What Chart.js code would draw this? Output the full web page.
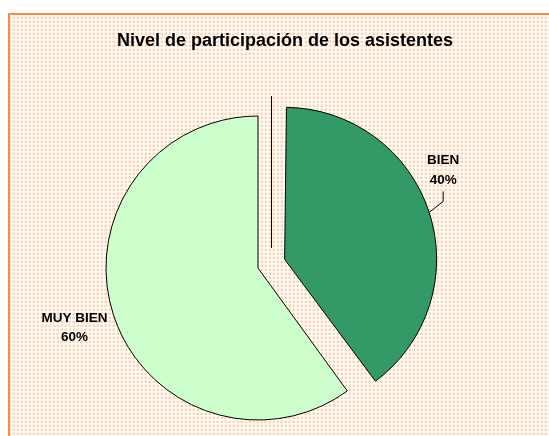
<!DOCTYPE html>
<html><head><meta charset="utf-8">
<script src="https://cdn.jsdelivr.net/npm/chart.js@4.4.1/dist/chart.umd.min.js"></script>
<style>html,body{margin:0;padding:0;background:#fff;}#wrap{width:549px;height:436px;position:relative;overflow:hidden}</style>
</head><body><div id="wrap"><canvas id="c" width="549" height="436"></canvas></div>
<script>
const chartTitle = 'Nivel de participación de los asistentes';
const categories = ['BIEN', 'MUY BIEN'];
const values = [40, 60];
const percentLabels = ['40%', '60%'];
const sliceColors = ['#339966', '#CCFFCC'];
const explode = [28, 0];

const FONT = '"Liberation Sans", Arial, Helvetica, sans-serif';

function makePattern(ctx) {
  const t = document.createElement('canvas');
  t.width = 4; t.height = 4;
  const g = t.getContext('2d');
  g.fillStyle = '#ffffff'; g.fillRect(0, 0, 4, 4);
  g.fillStyle = '#FFD4B0'; g.fillRect(1, 1, 2, 2);
  g.fillStyle = '#FFE9D6'; g.fillRect(0, 1, 1, 2); g.fillRect(1, 0, 2, 1);
  return ctx.createPattern(t, 'repeat');
}

const backgroundPlugin = {
  id: 'bgPattern',
  beforeDraw(chart) {
    const ctx = chart.ctx;
    ctx.save();
    ctx.fillStyle = '#ffffff';
    ctx.fillRect(0, 0, chart.width, chart.height);
    ctx.fillStyle = makePattern(ctx);
    ctx.fillRect(9, 14, chart.width, chart.height);
    ctx.strokeStyle = '#FF8A3D';
    ctx.lineWidth = 2;
    ctx.strokeRect(9, 14, chart.width + 20, chart.height + 20);
    // title
    ctx.fillStyle = '#000';
    ctx.font = 'bold 18px ' + FONT;
    ctx.textAlign = 'center';
    ctx.textBaseline = 'alphabetic';
    ctx.fillText(chartTitle, 285, 46);
    ctx.restore();
  },
  beforeDatasetsDraw(chart) {
    const meta = chart.getDatasetMeta(0);
    meta.data.forEach(el => {
      const off = (el.options.offset || 0) / 4;
      const fix = 1 - Math.sin(Math.min(Math.PI, el.circumference || 0));
      el.$savedR = el.outerRadius;
      el.outerRadius = el.outerRadius - off * fix;
    });
  },
  afterDatasetsDraw(chart) {
    const ctx = chart.ctx;
    const meta = chart.getDatasetMeta(0);
    meta.data.forEach(el => { if (el.$savedR !== undefined) el.outerRadius = el.$savedR; });
    const R = meta.data[0].outerRadius;
    const cx = meta.data[0].x, cy = meta.data[0].y;
    ctx.save();
    // thin vertical line above the gap
    ctx.strokeStyle = '#000';
    ctx.lineWidth = 1;
    ctx.beginPath();
    ctx.moveTo(Math.round(cx + 13) + 0.5, cy - R - 20);
    ctx.lineTo(Math.round(cx + 13) + 0.5, cy - 20);
    ctx.stroke();

    ctx.font = 'bold 13.5px ' + FONT;
    ctx.textAlign = 'center';
    ctx.textBaseline = 'middle';
    ctx.fillStyle = '#000';
    meta.data.forEach((el, i) => {
      const off = (el.options.offset || 0) / 4;
      const mid = (el.startAngle + el.endAngle) / 2;
      const vx = el.x + Math.cos(mid) * off, vy = el.y + Math.sin(mid) * off;
      if (i === 0) {
        const ax = vx + Math.cos(mid) * R, ay = vy + Math.sin(mid) * R;
        const ex = ax + 14, ey = ay - 11;
        ctx.beginPath();
        ctx.moveTo(ax, ay); ctx.lineTo(ex, ey); ctx.lineTo(ex, ey - 10);
        ctx.stroke();
        ctx.fillText(categories[i], ex, ey - 41);
        ctx.fillText(percentLabels[i], ex, ey - 21);
      } else {
        const lx = vx + Math.cos(mid) * (R + 41), ly = vy + Math.sin(mid) * (R + 41);
        ctx.fillText(categories[i], lx, ly - 9.5);
        ctx.fillText(percentLabels[i], lx, ly + 9.5);
      }
    });
    ctx.restore();
  }
};

new Chart(document.getElementById('c'), {
  type: 'pie',
  data: {
    labels: categories,
    datasets: [{
      data: values,
      backgroundColor: sliceColors,
      borderColor: '#000000',
      borderWidth: 1,
      offset: explode.map(v => v * 4),
      hoverOffset: 0,
      radius: 152
    }]
  },
  options: {
    responsive: false,
    animation: false,
    events: [],
    layout: { padding: { left: 0, right: 33, top: 100, bottom: 0 } },
    plugins: {
      legend: { display: false },
      title: { display: false },
      tooltip: { enabled: false }
    }
  },
  plugins: [backgroundPlugin]
});
</script>
</body></html>
